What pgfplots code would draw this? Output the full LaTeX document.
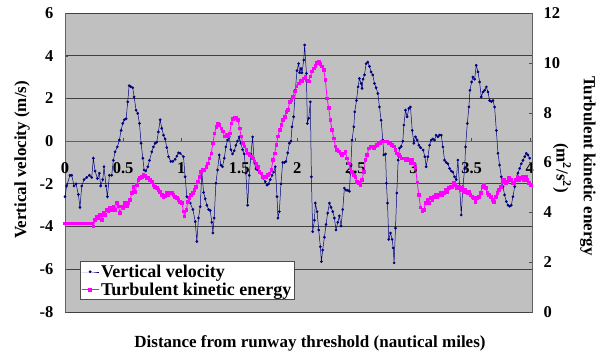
\documentclass[border=0pt]{standalone}
\usepackage{fontspec}
\setmainfont{Liberation Serif}
\usepackage{pgfplots}
\pgfplotsset{compat=1.18}
\definecolor{vvblue}{RGB}{0,0,128}
\definecolor{tkemag}{RGB}{255,0,255}
\definecolor{plotbg}{RGB}{192,192,192}
\begin{document}
\begin{tikzpicture}
\useasboundingbox (-65pt,-46pt) rectangle (535pt,312pt);
\begin{axis}[
  at={(0,0)}, anchor=south west,
  scale only axis, width=467pt, height=299pt,
  xmin=0, xmax=4.02, ymin=-8, ymax=6,
  axis background/.style={fill=plotbg, draw=gray!75!black},
  axis x line*=middle, axis y line*=left,
  axis line style={gray!75!black, -},
  xtick={0,0.5,1,1.5,2,2.5,3,3.5,4},
  xticklabels={0,0.5,1,1.5,2,2.5,3,3.5,4},
  hide obscured x ticks=false,
  ytick={-8,-6,-4,-2,0,2,4,6},
  yticklabels={-8,-6,-4,-2,0,2,4,6},
  ymajorgrids, grid style={black!75, line width=0.8pt},
  tick align=inside, major tick length=3pt,
  tick style={gray!60!black},
  ticklabel style={font=\fontsize{16.5}{18}\selectfont\bfseries},
  xticklabel style={inner sep=1pt, yshift=-20pt},
  yticklabel style={xshift=-8pt},
  clip=false,
]
\addplot[vvblue, line width=0.5pt, mark=*, mark size=1.1pt, mark options={fill=vvblue, draw=vvblue}] coordinates {
(0.000,-2.6)(0.014,-2.1)(0.043,-1.6)(0.058,-1.6)(0.078,-2.1)(0.095,-2.0)(0.115,-2.5)(0.129,-3.1)(0.144,-2.1)(0.164,-1.8)
(0.187,-1.7)(0.210,-1.6)(0.230,-1.7)(0.244,-0.8)(0.259,-1.4)(0.279,-1.75)(0.296,-1.5)(0.307,-2.1)(0.325,-1.8)(0.336,-1.2)
(0.353,-2.1)(0.365,-2.6)(0.382,-1.6)(0.402,-1.6)(0.416,-0.9)(0.431,-0.5)(0.451,-0.27)(0.468,0.05)(0.483,0.5)(0.497,0.83)
(0.511,1.0)(0.526,1.05)(0.540,1.84)(0.552,2.6)(0.566,2.55)(0.583,2.5)(0.595,2.07)(0.612,1.45)(0.626,1.3)(0.641,0.83)
(0.655,-0.1)(0.670,-0.8)(0.681,-1.35)(0.695,-1.4)(0.713,-1.2)(0.727,-0.9)(0.747,-0.5)(0.761,-0.27)(0.776,-0.1)(0.790,-0.05)
(0.804,0.43)(0.819,1.0)(0.833,0.6)(0.848,0.28)(0.862,0.1)(0.876,-0.3)(0.891,-0.73)(0.911,-0.95)(0.928,-0.95)(0.948,-0.85)
(0.963,-0.7)(0.977,-0.55)(0.991,-0.57)(1.020,-0.73)(1.034,-1.67)(1.049,-2.6)(1.078,-2.9)(1.101,-3.2)(1.121,-3.77)(1.135,-4.7)
(1.149,-3.6)(1.164,-3.07)(1.178,-1.43)(1.193,-2.4)(1.207,-2.7)(1.221,-3.0)(1.236,-3.2)(1.250,-3.25)(1.264,-3.8)(1.273,-4.3)
(1.284,-3.6)(1.299,-1.97)(1.313,-1.35)(1.328,-0.65)(1.342,-1.12)(1.356,-1.2)(1.371,-0.8)(1.385,-0.27)(1.399,0.05)(1.414,0.2)
(1.428,-0.4)(1.442,-0.6)(1.457,-0.45)(1.471,-0.2)(1.485,0.0)(1.500,0.2)(1.514,-0.1)(1.529,-0.4)(1.543,-0.6)(1.557,-1.5)
(1.572,-3.0)(1.586,-1.6)(1.601,-0.6)(1.615,0.2)(1.629,-1.0)(1.644,-1.3)(1.658,-1.35)(1.681,-1.5)(1.704,-1.73)(1.724,-1.9)
(1.739,-2.06)(1.753,-2.0)(1.767,-1.8)(1.782,-1.6)(1.796,-1.45)(1.810,-1.2)(1.825,-2.6)(1.833,-3.6)(1.845,-3.3)(1.859,-2.0)
(1.874,-1.0)(1.888,-1.0)(1.902,-0.95)(1.917,-0.55)(1.931,-0.1)(1.945,0.0)(1.954,0.67)(1.968,1.14)(1.983,2.4)(1.997,3.3)
(2.011,3.63)(2.020,3.2)(2.032,3.4)(2.040,3.2)(2.055,3.8)(2.063,4.5)(2.078,3.17)(2.086,0.83)(2.098,1.07)(2.112,1.84)
(2.121,-1.67)(2.132,-4.24)(2.147,-3.7)(2.155,-2.9)(2.170,-3.3)(2.184,-4.16)(2.198,-4.94)(2.207,-5.64)(2.218,-5.1)(2.233,-4.5)
(2.247,-3.9)(2.261,-3.37)(2.276,-2.9)(2.290,-3.1)(2.305,-3.3)(2.319,-3.6)(2.333,-4.16)(2.348,-3.8)(2.362,-3.5)(2.376,-3.97)
(2.391,-3.2)(2.405,-2.2)(2.420,-2.3)(2.434,-2.3)(2.448,-2.35)(2.457,-1.5)(2.471,0.05)(2.486,0.67)(2.494,1.37)(2.509,1.9)
(2.523,2.54)(2.534,2.93)(2.549,2.7)(2.557,2.47)(2.566,2.9)(2.578,3.1)(2.592,3.63)(2.606,3.7)(2.621,3.5)(2.635,3.24)
(2.649,3.1)(2.664,2.7)(2.678,2.5)(2.693,2.23)(2.707,1.6)(2.721,0.98)(2.736,0.05)(2.744,-0.65)(2.759,-0.6)(2.767,-1.97)
(2.776,-2.9)(2.787,-4.6)(2.802,-4.3)(2.816,-4.6)(2.825,-5.0)(2.833,-5.7)(2.845,-4.07)(2.856,-2.43)(2.868,-0.89)(2.879,-0.33)
(2.894,-0.25)(2.908,0.0)(2.917,0.75)(2.931,1.45)(2.945,1.14)(2.960,1.53)(2.974,1.6)(2.989,0.5)(3.003,-0.1)(3.017,0.2)
(3.032,0.05)(3.046,-0.19)(3.060,-0.3)(3.083,-0.42)(3.098,-0.73)(3.109,-1.2)(3.124,-0.73)(3.138,-0.19)(3.152,0.05)(3.167,0.1)
(3.181,0.05)(3.195,0.28)(3.210,0.2)(3.224,0.28)(3.239,0.28)(3.253,-0.27)(3.267,-0.89)(3.282,-1.0)(3.296,-1.06)(3.310,-1.28)
(3.325,-1.4)(3.339,-1.45)(3.353,-1.67)(3.368,-1.8)(3.382,-0.89)(3.397,-2.13)(3.411,-3.46)(3.425,-2.13)(3.440,-1.3)(3.448,-0.27)
(3.463,0.83)(3.477,1.6)(3.486,2.38)(3.500,2.77)(3.511,3.0)(3.526,2.9)(3.540,3.55)(3.555,3.24)(3.569,2.77)(3.583,2.07)
(3.598,2.3)(3.612,2.38)(3.627,2.54)(3.641,2.3)(3.655,1.9)(3.670,1.85)(3.684,1.9)(3.698,1.6)(3.713,0.5)(3.727,-0.57)
(3.741,-1.12)(3.756,-1.67)(3.770,-2.13)(3.784,-2.52)(3.799,-2.83)(3.813,-3.0)(3.828,-3.05)(3.842,-3.0)(3.856,-2.6)(3.871,-2.13)
(3.885,-1.8)(3.899,-1.5)(3.914,-1.28)(3.928,-1.06)(3.942,-0.9)(3.957,-0.73)(3.971,-0.57)(3.985,-0.65)(4.000,-0.8)
};
\end{axis}
\begin{axis}[
  at={(0,0)}, anchor=south west,
  scale only axis, width=467pt, height=299pt,
  xmin=0, xmax=4.02, ymin=0, ymax=12,
  axis x line=none, axis y line*=right,
  axis line style={gray!75!black, -},
  ytick={0,2,4,6,8,10,12},
  yticklabels={0,2,4,6,8,10,12},
  tick align=inside, major tick length=3pt,
  tick style={gray!60!black},
  ticklabel style={font=\fontsize{16.5}{18}\selectfont\bfseries},
  yticklabel style={xshift=8pt},
  clip=false,
  legend style={at={(rel axis cs:0.032,0.04)}, anchor=south west,
    draw=black!70, fill=white, line width=0.6pt,
    font=\fontsize{18}{20}\selectfont\bfseries, inner sep=1pt,
    row sep=0pt},
  legend cell align=left,
]
\addlegendimage{vvblue, line width=0.5pt, mark=*, mark size=1.1pt, mark options={fill=vvblue, draw=vvblue}}
\addlegendentry{Vertical velocity}
\addplot[tkemag, line width=0.8pt, mark=square*, mark size=1.3pt, mark options={fill=tkemag, draw=tkemag}] coordinates {
(0.000,3.56)(0.015,3.56)(0.030,3.56)(0.045,3.56)(0.060,3.56)(0.075,3.56)(0.090,3.56)(0.105,3.56)(0.120,3.56)(0.135,3.56)
(0.150,3.56)(0.165,3.56)(0.180,3.56)(0.195,3.56)(0.210,3.56)(0.230,3.56)
(0.244,3.43)(0.259,3.7)(0.273,3.83)(0.287,3.77)(0.302,3.9)(0.316,3.7)(0.330,3.97)(0.345,3.9)(0.359,4.1)(0.374,4.03)
(0.388,4.17)(0.402,4.1)(0.417,4.23)(0.431,4.1)(0.445,4.37)(0.460,4.23)(0.474,3.97)(0.489,4.23)(0.503,4.17)(0.517,4.37)
(0.532,4.23)(0.546,4.37)(0.560,4.5)(0.575,4.77)(0.589,5.03)(0.603,4.83)(0.618,5.1)(0.632,5.3)(0.647,5.37)(0.661,5.43)
(0.675,5.5)(0.690,5.47)(0.704,5.37)(0.718,5.37)(0.733,5.3)(0.747,5.23)(0.761,5.1)(0.776,5.03)(0.790,4.97)(0.805,4.9)
(0.819,4.83)(0.833,4.7)(0.848,4.63)(0.862,4.66)(0.876,4.77)(0.891,4.7)(0.905,4.77)(0.920,4.77)(0.934,4.7)(0.948,4.63)
(0.963,4.57)(0.977,4.5)(0.991,4.43)(1.006,4.37)(1.020,4.03)(1.029,3.83)(1.044,4.1)(1.057,4.43)(1.072,4.57)(1.086,4.7)
(1.101,4.77)(1.115,4.9)(1.129,5.03)(1.144,5.23)(1.158,5.43)(1.172,5.63)(1.187,5.7)(1.201,5.7)(1.216,5.83)(1.230,5.97)
(1.244,6.17)(1.259,6.37)(1.273,6.77)(1.287,7.17)(1.302,7.44)(1.316,7.57)(1.330,7.5)(1.345,7.37)(1.359,7.24)(1.374,7.04)
(1.388,7.1)(1.402,7.04)(1.417,7.17)(1.431,7.57)(1.445,7.74)(1.460,7.8)(1.474,7.8)(1.489,7.7)(1.503,7.37)(1.517,7.04)
(1.532,6.77)(1.546,6.64)(1.560,6.5)(1.575,6.37)(1.589,6.3)(1.603,6.24)(1.618,6.17)(1.632,6.04)(1.647,5.97)(1.661,5.83)
(1.675,5.63)(1.690,5.57)(1.704,5.43)(1.718,5.43)(1.733,5.43)(1.747,5.5)(1.761,5.57)(1.776,5.7)(1.790,6.1)(1.805,6.37)
(1.819,6.7)(1.833,7.04)(1.848,7.3)(1.862,7.5)(1.876,7.7)(1.891,7.84)(1.905,8.04)(1.920,8.1)(1.934,8.44)(1.948,8.5)
(1.963,8.64)(1.977,8.85)(1.991,9.05)(2.011,9.18)(2.026,9.3)(2.040,9.25)(2.055,9.38)(2.069,9.45)(2.083,9.3)(2.098,9.25)
(2.112,9.45)(2.126,9.65)(2.141,9.78)(2.155,9.88)(2.170,9.99)(2.184,10.05)(2.198,9.95)(2.213,9.85)(2.227,9.72)(2.241,9.32)
(2.256,8.58)(2.270,8.18)(2.284,7.7)(2.299,7.3)(2.313,6.97)(2.328,6.64)(2.342,6.5)(2.356,6.44)(2.371,6.37)(2.385,6.3)
(2.399,6.37)(2.414,6.44)(2.428,6.17)(2.443,5.97)(2.457,5.77)(2.471,5.63)(2.486,5.5)(2.500,5.43)(2.514,5.23)(2.529,5.17)
(2.543,5.1)(2.557,5.3)(2.572,5.63)(2.586,6.1)(2.601,6.3)(2.615,6.57)(2.629,6.64)(2.644,6.64)(2.658,6.57)(2.672,6.64)
(2.687,6.7)(2.701,6.77)(2.716,6.77)(2.730,6.84)(2.744,6.84)(2.759,6.84)(2.773,6.84)(2.787,6.77)(2.802,6.77)(2.816,6.7)
(2.830,6.64)(2.845,6.5)(2.859,6.37)(2.874,6.3)(2.888,6.24)(2.902,6.17)(2.917,6.17)(2.931,6.1)(2.945,6.17)(2.960,6.1)
(2.974,5.97)(2.989,6.1)(3.003,5.97)(3.017,5.8)(3.032,5.2)(3.046,4.7)(3.060,4.2)(3.075,4.03)(3.089,4.1)(3.103,4.37)
(3.118,4.5)(3.132,4.37)(3.147,4.57)(3.161,4.5)(3.175,4.63)(3.190,4.7)(3.204,4.63)(3.218,4.7)(3.233,4.77)(3.247,4.7)
(3.261,4.77)(3.276,4.9)(3.290,4.83)(3.305,4.97)(3.319,5.03)(3.333,5.03)(3.348,5.17)(3.362,5.1)(3.376,4.97)(3.391,5.03)
(3.405,4.9)(3.420,4.97)(3.434,4.83)(3.448,4.9)(3.463,4.77)(3.477,4.83)(3.491,4.7)(3.506,4.63)(3.520,4.57)(3.534,4.43)
(3.549,4.57)(3.563,4.63)(3.578,4.77)(3.592,5.03)(3.606,5.1)(3.621,4.97)(3.635,4.77)(3.649,4.7)(3.664,4.63)(3.678,4.5)
(3.692,4.43)(3.707,4.63)(3.721,4.77)(3.736,4.9)(3.750,5.03)(3.764,5.23)(3.779,5.3)(3.793,5.17)(3.807,5.23)(3.822,5.37)
(3.836,5.3)(3.851,5.17)(3.865,5.17)(3.879,5.3)(3.894,5.43)(3.908,5.3)(3.922,5.37)(3.937,5.43)(3.951,5.3)(3.966,5.43)
(3.980,5.3)(3.994,5.17)(4.009,5.1)
};
\addlegendentry{Turbulent kinetic energy}
\end{axis}
\node[rotate=90, font=\fontsize{17}{19}\selectfont\bfseries] at (-43pt,152pt) {Vertical velocity (m/s)};
\node[rotate=-90, font=\fontsize{17}{19}\selectfont\bfseries] at (523pt,146pt) {Turbulent kinetic energy};
\node[rotate=-90, font=\fontsize{17}{19}\selectfont\bfseries] at (497pt,144pt) {(m\textsuperscript{2}/s\textsuperscript{2})};
\node[font=\fontsize{17}{19}\selectfont\bfseries] at (245pt,-31pt) {Distance from runway threshold (nautical miles)};
\end{tikzpicture}
\end{document}
